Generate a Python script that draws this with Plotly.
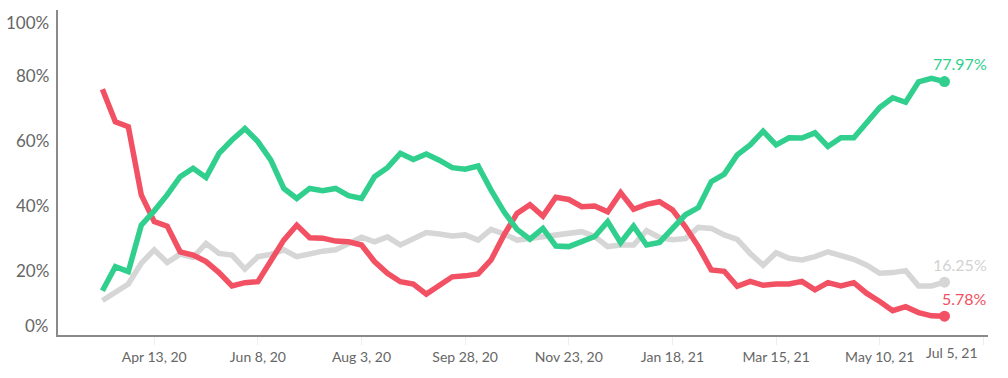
import datetime as dt
import plotly.graph_objects as go

start = dt.date(2020, 3, 16)
n_weeks = 66
weeks = [start + dt.timedelta(weeks=i) for i in range(n_weeks)]

green_vals = [13.6, 21.0, 19.5, 33.8, 38.2, 43.1, 48.7, 51.3, 48.5, 55.9,
              60.0, 63.5, 59.5, 53.8, 45.1, 42.0, 45.1, 44.4, 45.1, 42.9,
              42.0, 48.7, 51.5, 55.9, 54.0, 55.7, 53.8, 51.5, 51.0, 52.0,
              44.6, 37.9, 32.5, 29.5, 32.8, 27.4, 27.2, 28.7, 30.3, 34.9,
              28.4, 33.5, 27.7, 28.5, 32.5, 37.0, 39.2, 47.2, 49.5, 55.4,
              58.5, 62.7, 58.5, 60.7, 60.6, 62.2, 58.0, 60.7, 60.7, 65.1,
              70.0, 73.0, 71.6, 77.9, 79.0, 77.97]
red_vals = [75.6, 65.6, 64.1, 43.1, 34.9, 33.5, 25.6, 24.6, 22.6, 19.2,
            15.1, 16.1, 16.4, 22.6, 29.2, 33.8, 29.9, 29.8, 28.9, 28.7,
            27.7, 22.6, 19.0, 16.4, 15.7, 12.6, 15.1, 17.9, 18.2, 18.8,
            23.1, 30.8, 37.4, 40.1, 36.6, 42.4, 41.7, 39.5, 39.7, 37.9,
            43.8, 38.7, 40.2, 41.0, 38.5, 33.3, 27.2, 20.0, 19.6, 15.0,
            16.5, 15.3, 15.7, 15.7, 16.5, 13.9, 16.1, 15.1, 16.1, 12.8,
            10.3, 7.5, 8.7, 6.9, 5.9, 5.78]
gray_vals = [10.6, 13.3, 15.7, 22.1, 26.2, 22.3, 24.9, 23.9, 28.2, 25.1,
             24.6, 20.3, 24.1, 24.8, 26.2, 24.1, 25.1, 25.8, 26.2, 28.2,
             30.1, 28.7, 30.2, 27.7, 29.7, 31.5, 31.1, 30.5, 30.8, 29.2,
             32.5, 31.1, 29.2, 29.7, 30.5, 30.8, 31.3, 31.8, 30.3, 27.2,
             27.7, 27.7, 32.1, 30.0, 29.3, 29.7, 33.1, 32.8, 30.8, 29.4,
             25.1, 21.5, 25.3, 23.6, 23.1, 24.1, 25.6, 24.3, 23.3, 21.5,
             19.0, 19.2, 19.8, 15.1, 15.1, 16.25]

tick_dates = ["2020-04-13", "2020-06-08", "2020-08-03", "2020-09-28", "2020-11-23",
              "2021-01-18", "2021-03-15", "2021-05-10", "2021-07-05"]
tick_labels = ["Apr 13, 20", "Jun 8, 20", "Aug 3, 20", "Sep 28, 20", "Nov 23, 20",
               "Jan 18, 21", "Mar 15, 21", "May 10, 21", "Jul 5, 21"]
y_ticks = [0, 20, 40, 60, 80, 100]

GREEN = "#31cf8e"
RED = "#f25063"
GRAY = "#d6d6d6"
FONT = "Lato"
TICK_COL = "#666666"

series = [("gray", gray_vals, GRAY, "#d2d2d2"),
          ("red", red_vals, RED, RED),
          ("green", green_vals, GREEN, GREEN)]

fig = go.Figure()
for name, vals, col, lcol in series:
    fig.add_trace(go.Scatter(
        x=weeks, y=vals, mode="lines", name=name,
        line=dict(color=col, width=5.5, shape="linear"),
        hoverinfo="skip", showlegend=False))
    fig.add_trace(go.Scatter(
        x=[weeks[-1]], y=[vals[-1]], mode="markers",
        marker=dict(color=col, size=11),
        hoverinfo="skip", showlegend=False))
    fig.add_annotation(
        x=weeks[-1], y=vals[-1], xref="x", yref="y",
        text=f"{vals[-1]:.2f}%", showarrow=False,
        xanchor="right", yanchor="middle", xshift=44, yshift=18,
        font=dict(family=FONT, size=16, color=lcol))

# y-axis labels (end labels nudged inward as in the reference)
y_shift = {0: 10, 100: -12}
for v in y_ticks:
    fig.add_annotation(
        x=0, xref="paper", y=v, yref="y", text=f"{v}%", showarrow=False,
        xanchor="right", yanchor="middle", xshift=-7, yshift=y_shift.get(v, 0),
        font=dict(family=FONT, size=17, color=TICK_COL))

# last x label is right-aligned to its tick so it stays inside the chart
fig.add_annotation(
    x=tick_dates[-1], xref="x", y=0, yref="y", text=tick_labels[-1],
    showarrow=False, xanchor="right", yanchor="middle", xshift=-3, yshift=-17,
    font=dict(family=FONT, size=14, color=TICK_COL))

fig.update_layout(
    width=1008, height=378,
    margin=dict(l=58, r=20, t=10, b=43),
    plot_bgcolor="white", paper_bgcolor="white",
    font=dict(family=FONT, size=14, color=TICK_COL),
    hovermode=False,
    xaxis=dict(
        type="date",
        range=["2020-02-21", "2021-07-07 12:00"],
        tickvals=tick_dates, ticktext=tick_labels[:-1] + [""],
        showgrid=False, zeroline=False,
        showline=True, linecolor="#8a8a8a", linewidth=2,
        ticks="outside", ticklen=8, tickcolor="#eeeeee", tickwidth=1,
        tickfont=dict(family=FONT, size=14, color=TICK_COL),
    ),
    yaxis=dict(
        range=[0, 100], tickvals=y_ticks, showticklabels=False,
        showgrid=False, zeroline=False,
        showline=True, linecolor="#8a8a8a", linewidth=2,
        ticks="",
    ),
)

# remove the default 8px body margin so the 1008x378 figure fills the window
fig.write_html("out.html",
               config={"displayModeBar": False},
               post_script="document.body.style.margin='0px';")
